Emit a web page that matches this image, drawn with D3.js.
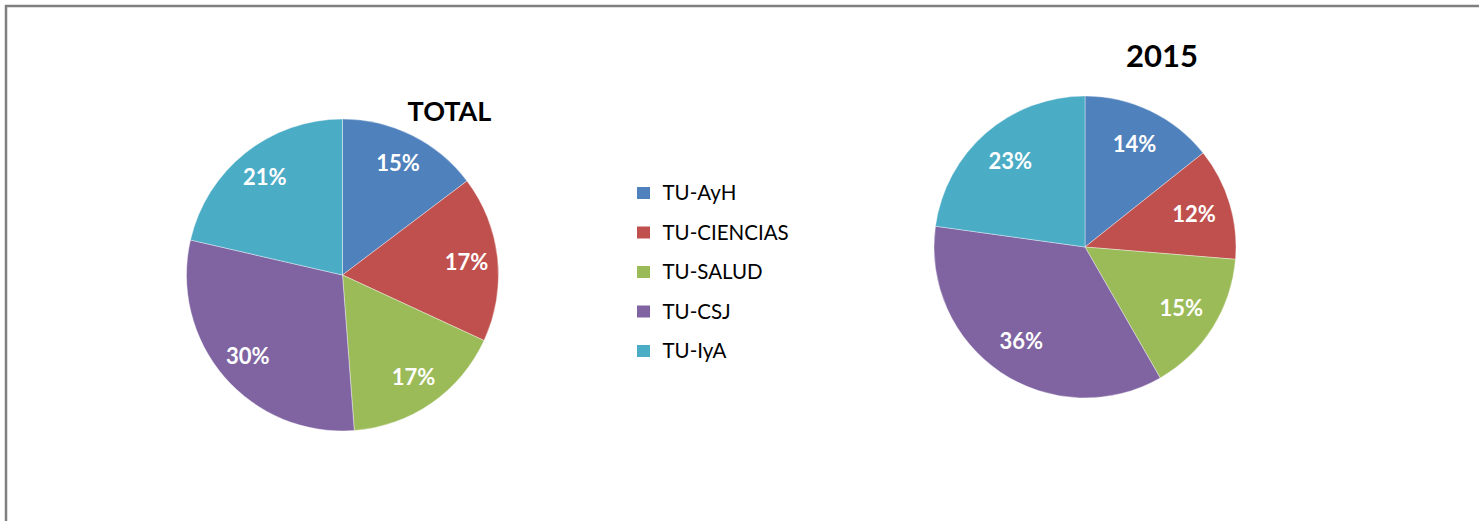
<!DOCTYPE html>
<html>
<head>
<meta charset="utf-8">
<script src="https://cdn.jsdelivr.net/npm/d3@7"></script>
<style>
  body { margin: 0; background: #fff; }
  text { font-family: Lato, "Open Sans", sans-serif; }
</style>
</head>
<body>
<div id="chart"></div>
<script>
// data (share of each faculty, in %)
var categories = ["TU-AyH", "TU-CIENCIAS", "TU-SALUD", "TU-CSJ", "TU-IyA"];
var totalValues = [14.7, 17.2, 16.9, 29.8, 21.4];
var values2015 = [14.3, 12.0, 15.4, 35.5, 22.8];
var titles = ["TOTAL", "2015"];
var colors = ["#4F81BD", "#C0504D", "#9BBB59", "#8064A2", "#4BACC6"];

function init(){
    var w = 1479;
    var h = 521;

    var svg = d3.select("#chart")
                .append("svg")
                .attr("width", w)
                .attr("height", h);

    svg.append("rect")
        .attr("width", w)
        .attr("height", h)
        .attr("fill", "#fff");

    // frame of the chart area (only top and left edges show)
    svg.append("path")
        .attr("d", "M6," + h + "V6H" + w)
        .attr("fill", "none")
        .attr("stroke", "#7f7f7f")
        .attr("stroke-width", 2.5);

    var color = d3.scaleOrdinal()
                  .domain(categories)
                  .range(colors);

    var pie = d3.pie()
                .sort(null)
                .value(function(d){ return d.value; });

    var pct = d3.format(".0%");

    var pies = [
        {title: titles[0], values: totalValues, cx: 342.5, cy: 275, r: 156, lr: 0.8, tx: 449.5, ty: 121, fs: 27},
        {title: titles[1], values: values2015, cx: 1085, cy: 247, r: 151, lr: 0.755, tx: 1162, ty: 67, fs: 31}
    ];

    pies.forEach(function(p){
        var data = categories.map(function(c, i){
            return {name: c, value: p.values[i]};
        });
        var sum = d3.sum(p.values);

        var arc = d3.arc().innerRadius(0).outerRadius(p.r);
        // labels sit on a ring inside the pie
        var labelArc = d3.arc().innerRadius(p.r * p.lr).outerRadius(p.r * p.lr);

        var g = svg.append("g")
                   .attr("transform", "translate(" + p.cx + "," + p.cy + ")");

        g.selectAll("path")
            .data(pie(data))
            .enter()
            .append("path")
            .attr("d", arc)
            .attr("fill", function(d){ return color(d.data.name); })
            .attr("stroke", "#ffffff")
            .attr("stroke-opacity", 0.5)
            .attr("stroke-width", 0.75);

        g.selectAll("text")
            .data(pie(data))
            .enter()
            .append("text")
            .text(function(d){ return pct(d.data.value / sum); })
            .attr("x", function(d){ return labelArc.centroid(d)[0]; })
            .attr("y", function(d){ return labelArc.centroid(d)[1]; })
            .attr("dy", "0.36em")
            .attr("text-anchor", "middle")
            .attr("fill", "#fff")
            .attr("font-weight", "bold")
            .attr("font-size", "22px");

        svg.append("text")
            .text(p.title)
            .attr("x", p.tx)
            .attr("y", p.ty)
            .attr("text-anchor", "middle")
            .attr("font-weight", "bold")
            .attr("font-size", p.fs + "px")
            .attr("fill", "#000");
    });

    // legend
    var legend = svg.append("g")
                    .attr("transform", "translate(637,193)");

    var rows = legend.selectAll("g")
        .data(categories)
        .enter()
        .append("g")
        .attr("transform", function(d, i){ return "translate(0," + (i * 39.5) + ")"; });

    rows.append("rect")
        .attr("x", 0)
        .attr("y", -6)
        .attr("width", 13)
        .attr("height", 12)
        .attr("fill", function(d){ return color(d); });

    rows.append("text")
        .text(function(d){ return d; })
        .attr("x", 25.5)
        .attr("dy", "0.36em")
        .attr("font-size", "20.5px")
        .attr("fill", "#000");
}
window.onload = init;
</script>
</body>
</html>
